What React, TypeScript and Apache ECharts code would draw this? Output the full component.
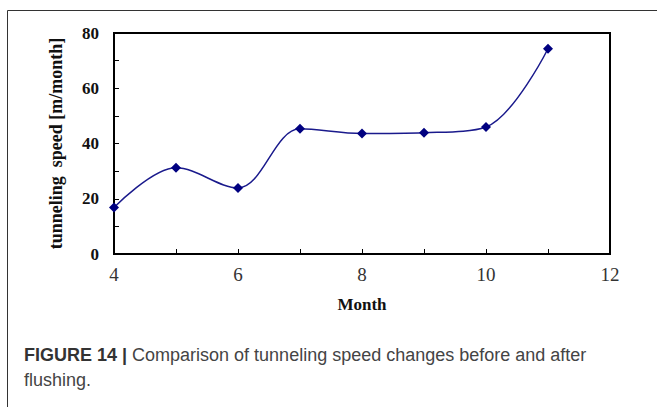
import React, { useEffect, useRef } from "react";
import * as echarts from "echarts";

const months = [4, 5, 6, 7, 8, 9, 10, 11];
const speeds = [16.8, 31.2, 23.9, 45.3, 43.6, 43.9, 46.0, 74.3];
const yTicks = [0, 20, 40, 60, 80];
const xTicks = [4, 6, 8, 10, 12];
const yAxisTitle = "tunneling  speed [m/month]";
const xAxisTitle = "Month";
const captionBold = "FIGURE 14 |";
const captionLine1 = " Comparison of tunneling speed changes before and after";
const captionLine2 = "flushing.";

export default function App() {
  const ref = useRef<HTMLDivElement>(null);
  useEffect(() => {
    if (!ref.current) return;
    const chart = echarts.init(ref.current, undefined, { renderer: "svg" });
    const serif = "Liberation Serif";
    const sans = "Liberation Sans";
    chart.setOption({
      animation: false,
      backgroundColor: "#fff",
      grid: {
        left: 114,
        top: 33,
        width: 496,
        height: 221,
        show: true,
        borderColor: "#000",
        borderWidth: 2,
        containLabel: false,
      },
      xAxis: {
        type: "value",
        min: 4,
        max: 12,
        interval: 1,
        name: xAxisTitle,
        nameLocation: "middle",
        nameGap: 42,
        nameTextStyle: { fontFamily: serif, fontWeight: "bold", fontSize: 17, color: "#111" },
        axisLine: { show: true, lineStyle: { color: "#000", width: 2 } },
        axisTick: { show: true, inside: true, length: 5, lineStyle: { color: "#000", width: 1 } },
        axisLabel: {
          margin: 11,
          fontFamily: serif,
          fontSize: 19,
          color: "#333",
          formatter: (v: number) => (xTicks.includes(v) ? String(v) : ""),
        },
        splitLine: { show: false },
      },
      yAxis: {
        type: "value",
        min: 0,
        max: 80,
        interval: 10,
        name: yAxisTitle,
        nameLocation: "middle",
        nameGap: 49,
        nameRotate: 90,
        nameTextStyle: { fontFamily: serif, fontWeight: "bold", fontSize: 18, color: "#111" },
        axisLine: { show: true, lineStyle: { color: "#000", width: 2 } },
        axisTick: { show: true, inside: true, length: 5, lineStyle: { color: "#000", width: 1 } },
        axisLabel: {
          margin: 15,
          fontFamily: serif,
          fontWeight: "bold",
          fontSize: 17,
          color: "#111",
          formatter: (v: number) => (yTicks.includes(v) ? String(v) : ""),
        },
        splitLine: { show: false },
      },
      series: [
        {
          type: "line",
          data: months.map((m, i) => [m, speeds[i]]),
          smooth: 0.35,
          symbol: "diamond",
          symbolSize: 10,
          itemStyle: { color: "#000080" },
          lineStyle: { color: "#1a1a8c", width: 1.5 },
        },
      ],
      graphic: [
        {
          type: "line",
          shape: { x1: 7.5, y1: 10.5, x2: 660, y2: 10.5 },
          style: { stroke: "#333", lineWidth: 1 },
        },
        {
          type: "line",
          shape: { x1: 7.5, y1: 10.5, x2: 7.5, y2: 410 },
          style: { stroke: "#333", lineWidth: 1 },
        },
        {
          type: "text",
          left: 24,
          top: 346,
          style: {
            text: "{b|" + captionBold + "}{n|" + captionLine1 + "}",
            rich: {
              b: { fontFamily: sans, fontWeight: "bold", fontSize: 18, fill: "#333" },
              n: { fontFamily: sans, fontSize: 18, fill: "#444" },
            },
          },
        },
        {
          type: "text",
          left: 24,
          top: 371,
          style: {
            text: captionLine2,
            font: "18px Liberation Sans",
            fill: "#444",
          },
        },
      ],
    });
    return () => chart.dispose();
  }, []);
  return <div ref={ref} style={{ position: "fixed", left: 0, top: 0, width: 657, height: 407 }} />;
}
